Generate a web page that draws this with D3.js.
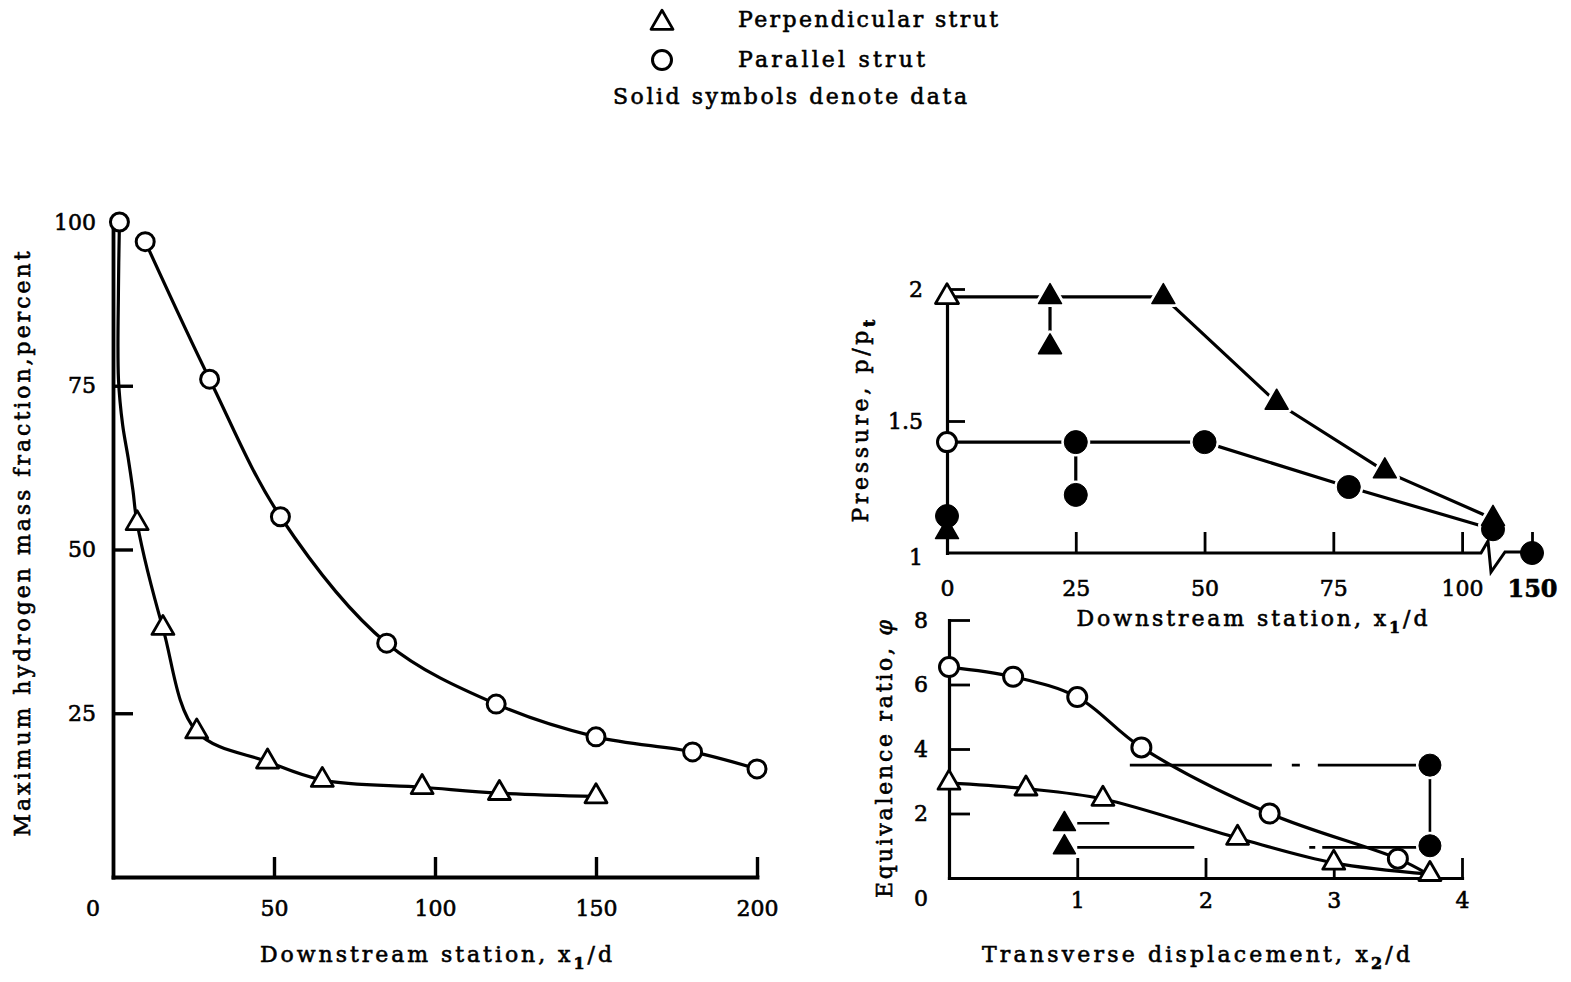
<!DOCTYPE html>
<html>
<head>
<meta charset="utf-8">
<script src="https://cdn.jsdelivr.net/npm/d3@7"></script>
<style>
  body { margin: 0; background: #fff; }
  svg text { font-family: "DejaVu Serif", "Liberation Serif", serif; fill: #000; stroke: #000; stroke-width: 0.6px; }
</style>
</head>
<body>
<svg id="fig" width="1571" height="982"></svg>
<script>
const FONT = '"DejaVu Serif", "Liberation Serif", serif';

// ---------- left panel: maximum hydrogen mass fraction (percent) vs x1/d ----------
const injectionPoint = [2, 100];                 // common start value of both struts
const perpLeadX = [1.7, 1.7, 3.0, 4.7, 6.2];      // course of the perpendicular curve just downstream of injection
const perpLeadY = [90, 76, 69, 64, 59];
const perpStationX = [7.5, 15.5, 26, 48, 65, 96, 120, 150];
const perpFraction = [54, 38, 22.2, 17.6, 14.8, 13.7, 12.8, 12.3];
const parStationX = [10, 30, 52, 85, 119, 150, 180, 200];
const parFraction = [97, 76, 55, 35.7, 26.4, 21.4, 19.1, 16.5];
const leftXTicks = [50, 100, 150, 200];
const leftYTicks = [25, 50, 75, 100];

// ---------- upper right: pressure p/pt vs x1/d ----------
const pressPerpX = [0, 20, 42, 64, 85, 106];
const pressPerpY = [1.97, 1.97, 1.97, 1.57, 1.31, 1.13];
const pressPerpSolid = [false, true, true, true, true, true];
const pressPerpExtraX = [20, 0];
const pressPerpExtraY = [1.78, 1.08];
const pressParX = [0, 25, 50, 78, 106];
const pressParY = [1.42, 1.42, 1.42, 1.25, 1.09];
const pressParSolid = [false, true, true, true, true];
const pressParExtraX = [25, 0, 150];
const pressParExtraY = [1.22, 1.14, 1.0];
const pressXTicks = [0, 25, 50, 75, 100, 150];
const pressYTicks = [1, 1.5, 2];

// ---------- lower right: equivalence ratio vs x2/d ----------
const phiParX = [0, 0.5, 1.0, 1.5, 2.5, 3.5];
const phiParY = [6.54, 6.24, 5.61, 4.05, 2.0, 0.6];
const phiParTail = [3.72, 0.15];
const phiPerpX = [0, 0.6, 1.2, 2.25, 3.0, 3.75];
const phiPerpY = [2.95, 2.77, 2.45, 1.24, 0.47, 0.12];
const phiDataPerpX = [0.9, 0.9];
const phiDataPerpY = [1.67, 0.95];
const phiDataParX = [3.75, 3.75];
const phiDataParY = [3.5, 1.0];
const phiBarStart = [1.0, 1.41, 1.0];
const phiBarEnd = [1.25, 3.72, 3.72];
const phiBarLevel = [1.7, 3.5, 0.95];
const phiXTicks = [1, 2, 3, 4];
const phiYTicks = [2, 4, 6, 8];

// ---------- legend ----------
const legendLabels = ["Perpendicular strut", "Parallel strut"];
const legendNote = "Solid symbols denote data";

const zip = (xs, ys) => xs.map((x, i) => [x, ys[i]]);
const plain = d => String(d);
const svg = d3.select("#fig");
const lineLayer = svg.append("g");
const haloLayer = svg.append("g");
const axisLayer = svg.append("g");
const markLayer = svg.append("g");

// ---------- helpers ----------
function addAxis(axis, transform, sw) {
  const g = axisLayer.append("g").attr("transform", transform).call(axis.tickFormat(plain));
  g.attr("font-family", FONT).attr("font-size", 22);
  g.select(".domain").attr("stroke-width", sw).attr("stroke-linecap", "square");
  g.selectAll(".tick line").attr("stroke-width", sw - 0.4);
  return g;
}
function triangle(x, y, side, solid) {
  const area = Math.sqrt(3) / 4 * side * side;
  const d = d3.symbol(d3.symbolTriangle, area)();
  if (solid) {
    haloLayer.append("path").attr("d", d).attr("transform", `translate(${x},${y})`)
      .attr("fill", "#fff").attr("stroke", "#fff").attr("stroke-width", 7).attr("stroke-linejoin", "round");
  }
  markLayer.append("path").attr("d", d).attr("transform", `translate(${x},${y})`)
    .attr("fill", solid ? "#000" : "#fff").attr("stroke", "#000")
    .attr("stroke-width", solid ? 1.5 : 2.8).attr("stroke-linejoin", "round");
}
function circle(x, y, r, solid) {
  if (solid) {
    haloLayer.append("circle").attr("cx", x).attr("cy", y).attr("r", r + 3).attr("fill", "#fff");
  }
  markLayer.append("circle").attr("cx", x).attr("cy", y).attr("r", r)
    .attr("fill", solid ? "#000" : "#fff").attr("stroke", "#000").attr("stroke-width", solid ? 1 : 3);
}
function drawPath(pts, curve, sw, dash) {
  lineLayer.append("path")
    .attr("d", d3.line().curve(curve)(pts))
    .attr("fill", "none").attr("stroke", "#000").attr("stroke-width", sw)
    .attr("stroke-linejoin", "round")
    .attr("stroke-dasharray", dash || null);
}
function title(x, y, length, parts, rotate) {
  const t = svg.append("text").attr("x", x).attr("y", y)
    .attr("text-anchor", "middle").attr("font-size", 22)
    .attr("textLength", length).attr("lengthAdjust", "spacing");
  if (rotate) t.attr("transform", `rotate(-90,${x},${y})`);
  let shift = 0;
  parts.forEach(p => {
    const s = t.append("tspan").text(p.text);
    const target = p.sub ? 7 : 0;
    if (target !== shift) { s.attr("dy", target - shift); shift = target; }
    if (p.sub) s.attr("font-size", 16).attr("font-weight", "bold");
    if (p.italic) s.attr("font-style", "italic");
  });
  return t;
}

// ================= left panel =================
const xL = d3.scaleLinear().domain([0, 200]).range([113, 757]);
const yL = d3.scaleLinear().domain([0, 100]).range([877, 222]);
const smooth = d3.curveCatmullRom.alpha(0.5);

const perpPath = [injectionPoint, ...zip(perpLeadX, perpLeadY), ...zip(perpStationX, perpFraction)]
  .map(([x, y]) => [xL(x), yL(y)]);
drawPath(perpPath, smooth, 3.2);
drawPath(zip(parStationX, parFraction).map(([x, y]) => [xL(x), yL(y)]), smooth, 3.2);

addAxis(d3.axisBottom(xL).tickValues(leftXTicks).tickSize(-20).tickSizeOuter(0).tickPadding(23),
  `translate(0,${yL(0)})`, 3.8);
const gyL = addAxis(d3.axisLeft(yL).tickValues(leftYTicks).tickSize(-20).tickSizeOuter(0).tickPadding(17),
  `translate(${xL(0)},0)`, 3.8);
gyL.selectAll(".tick").filter(d => d === 100).select("line").remove();
axisLayer.append("text").attr("x", xL(0) - 20).attr("y", yL(0) + 31)
  .attr("text-anchor", "middle").attr("font-size", 22).attr("dominant-baseline", "central").text("0");

circle(xL(injectionPoint[0]), yL(injectionPoint[1]), 9, false);
zip(parStationX, parFraction).forEach(([x, y]) => circle(xL(x), yL(y), 9, false));
zip(perpStationX, perpFraction).forEach(([x, y]) => triangle(xL(x), yL(y), 22, false));

title(436, 962, 352, [{text: "Downstream station, x"}, {text: "1", sub: true}, {text: "/d"}]);
title(30, 544, 585, [{text: "Maximum hydrogen mass fraction,percent"}], true);

// ================= upper right: pressure =================
const xP = d3.scaleLinear().domain([0, 106, 150]).range([947, 1493, 1532]);
const yP = d3.scaleLinear().domain([1, 2]).range([553, 289]);

drawPath(zip(pressPerpX, pressPerpY).map(([x, y]) => [xP(x), yP(y)]), d3.curveLinear, 3.2);
drawPath(zip(pressParX, pressParY).map(([x, y]) => [xP(x), yP(y)]), d3.curveLinear, 3.2);
// vertical connectors between repeated measurements at one station
drawPath([[xP(pressPerpExtraX[0]), yP(pressPerpY[1])], [xP(pressPerpExtraX[0]), yP(pressPerpExtraY[0])]], d3.curveLinear, 3.2);
drawPath([[xP(pressParExtraX[0]), yP(pressParY[1])], [xP(pressParExtraX[0]), yP(pressParExtraY[0])]], d3.curveLinear, 3.2);

const gxP = addAxis(d3.axisBottom(xP).tickValues(pressXTicks).tickSize(-21).tickSizeOuter(0).tickPadding(27),
  `translate(0,${yP(1)})`, 3.2);
gxP.select(".domain").remove();
gxP.selectAll(".tick").filter(d => d === 0).select("line").remove();
gxP.selectAll(".tick").filter(d => d === 150).select("text")
  .attr("font-weight", "bold").attr("font-size", 24);
// x-axis with a scale break between 100 and 150
{
  const yb = yP(1), bx = xP(106);
  axisLayer.append("path")
    .attr("d", `M${xP(0)},${yb}H${bx - 12}L${bx - 5},${yb - 12}L${bx - 2},${yb + 19}L${bx + 12},${yb - 1}H${xP(150)}`)
    .attr("fill", "none").attr("stroke", "#000").attr("stroke-width", 3).attr("stroke-linejoin", "miter");
}
const gyP = addAxis(d3.axisLeft(yP).tickValues(pressYTicks).tickSize(-18).tickSizeOuter(0).tickPadding(24),
  `translate(${xP(0)},0)`, 3.2);
gyP.selectAll(".tick").filter(d => d === 1).select("line").remove();
gyP.selectAll(".tick").filter(d => d === 1).select("text").attr("dy", "0.5em");

zip(pressPerpExtraX, pressPerpExtraY).forEach(([x, y]) => triangle(xP(x), yP(y), 23, true));
zip(pressParExtraX, pressParExtraY).forEach(([x, y]) => circle(xP(x), yP(y), 11.5, true));
pressParX.forEach((x, i) => circle(xP(x), yP(pressParY[i]), pressParSolid[i] ? 11.5 : 9.5, pressParSolid[i]));
pressPerpX.forEach((x, i) => triangle(xP(x), yP(pressPerpY[i]), 23, pressPerpSolid[i]));

title(1252, 626, 351, [{text: "Downstream station, x"}, {text: "1", sub: true}, {text: "/d"}]);
title(868, 421, 203, [{text: "Pressure, p/p"}, {text: "t", sub: true}], true);

// ================= lower right: equivalence ratio =================
const xE = d3.scaleLinear().domain([0, 4]).range([949, 1462]);
const yE = d3.scaleLinear().domain([0, 8]).range([878, 620]);
const BAR_DASH = [null, "142 20 8 18 400", "117 115 6 7 400"];

drawPath([...zip(phiParX, phiParY), phiParTail].map(([x, y]) => [xE(x), yE(y)]), smooth, 3.2);
drawPath(zip(phiPerpX, phiPerpY).map(([x, y]) => [xE(x), yE(y)]), smooth, 3.2);
phiBarLevel.forEach((v, i) =>
  drawPath([[xE(phiBarStart[i]), yE(v)], [xE(phiBarEnd[i]), yE(v)]], d3.curveLinear, 2.6, BAR_DASH[i]));
drawPath(zip(phiDataParX, phiDataParY).map(([x, y]) => [xE(x), yE(y)]), d3.curveLinear, 2.6);

addAxis(d3.axisBottom(xE).tickValues(phiXTicks).tickSize(-20).tickSizeOuter(0).tickPadding(14),
  `translate(0,${yE(0)})`, 3.2);
addAxis(d3.axisLeft(yE).tickValues(phiYTicks).tickSize(-21).tickSizeOuter(0).tickPadding(21),
  `translate(${xE(0)},0)`, 3.2);
axisLayer.append("text").attr("x", xE(0) - 28).attr("y", yE(0) + 20)
  .attr("text-anchor", "middle").attr("font-size", 22).attr("dominant-baseline", "central").text("0");

zip(phiParX, phiParY).forEach(([x, y]) => circle(xE(x), yE(y), 9.5, false));
zip(phiPerpX, phiPerpY).forEach(([x, y]) => triangle(xE(x), yE(y), 22, false));
zip(phiDataPerpX, phiDataPerpY).forEach(([x, y]) => triangle(xE(x), yE(y), 22, true));
zip(phiDataParX, phiDataParY).forEach(([x, y]) => circle(xE(x), yE(y), 11, true));

title(1196, 962, 428, [{text: "Transverse displacement, x"}, {text: "2", sub: true}, {text: "/d"}]);
title(892, 759, 278, [{text: "Equivalence ratio, "}, {text: "φ", italic: true}], true);

// ================= legend =================
triangle(662, 23, 22, false);
circle(662, 60, 9.5, false);
svg.append("text").attr("x", 738).attr("y", 27).attr("font-size", 22)
  .attr("textLength", 260).attr("lengthAdjust", "spacing").text(legendLabels[0]);
svg.append("text").attr("x", 738).attr("y", 67).attr("font-size", 22)
  .attr("textLength", 187).attr("lengthAdjust", "spacing").text(legendLabels[1]);
svg.append("text").attr("x", 613).attr("y", 104).attr("font-size", 22)
  .attr("textLength", 354).attr("lengthAdjust", "spacing").text(legendNote);
</script>
</body>
</html>
